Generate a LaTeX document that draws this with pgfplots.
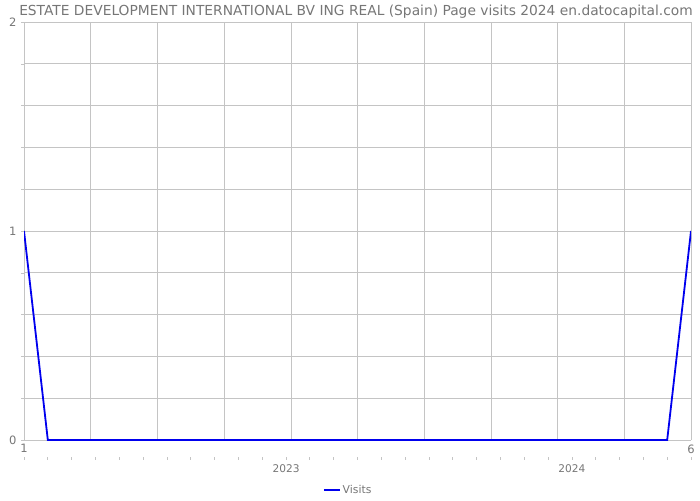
\documentclass[border=0pt]{standalone}
\usepackage{pgfplots}
\pgfplotsset{compat=1.18}
\usepackage{fontspec}
\setmainfont{DejaVu Sans}
\definecolor{gridc}{HTML}{C4C4C4}
\definecolor{txt}{HTML}{767676}
\definecolor{vis}{HTML}{0000EE}
\begin{document}
\begin{tikzpicture}
\useasboundingbox (0pt,0pt) rectangle (700pt,500pt);
\node[text=txt,font=\fontsize{13.8}{15}\selectfont] at (356pt,488.5pt) {ESTATE DEVELOPMENT INTERNATIONAL BV ING REAL (Spain) Page visits 2024 en.datocapital.com};
% secondary axis: month ticks and year labels
\begin{axis}[at={(24pt,42pt)}, anchor=south west, scale only axis, width=667pt, height=10pt,
  xmin=0, xmax=28, ymin=0, ymax=1,
  axis x line*=bottom, axis y line=none,
  axis line style={draw=none},
  xtick={0,...,28},
  xticklabels={,,,,,,,,,,,2023,,,,,,,,,,,,2024,,,,,},
  major tick length=3pt,
  tick style={gridc, line width=0.8pt},
  tick align=center,
  xticklabel style={text=txt, font=\fontsize{10.6}{12}\selectfont, yshift=-2pt},
  /pgf/number format/assume math mode=true]
\end{axis}
\begin{axis}[at={(24pt,60pt)}, anchor=south west, scale only axis, width=667pt, height=418pt,
  xmin=0, xmax=28, ymin=0, ymax=2,
  axis x line*=bottom, axis y line*=left,
  axis line style={gridc, line width=0.8pt},
  xtick={0,2.8,5.6,8.4,11.2,14,16.8,19.6,22.4,25.2,28},
  xticklabels={1,,,,,,,,,,6},
  ytick={0,1,2},
  yticklabels={0,1,2},
  minor ytick={0.2,0.4,0.6,0.8,1.2,1.4,1.6,1.8},
  grid=both,
  grid style={gridc, line width=0.6pt},
  minor grid style={gridc, line width=0.6pt},
  x tick style={draw=none},
  y tick style={gridc},
  major tick length=3pt, minor tick length=3pt,
  tick align=outside,
  xticklabel style={text=txt, font=\fontsize{11.5}{12}\selectfont, yshift=2pt},
  yticklabel style={text=txt, font=\fontsize{11.5}{12}\selectfont, xshift=-1pt},
  /pgf/number format/assume math mode=true,
  legend style={at={(axis description cs:0.486,-0.12)}, anchor=center, draw=none, fill=none,
    font=\fontsize{10.8}{12}\selectfont, text=txt, legend columns=-1},
  legend image code/.code={\draw[vis, line width=1.8pt] (0pt,0pt) -- (16pt,0pt);},
  legend cell align=left]
\addplot[vis, line width=1.8pt] coordinates {
(0,1) (1,0) (2,0) (3,0) (4,0) (5,0) (6,0) (7,0) (8,0) (9,0) (10,0) (11,0) (12,0) (13,0) (14,0)
(15,0) (16,0) (17,0) (18,0) (19,0) (20,0) (21,0) (22,0) (23,0) (24,0) (25,0) (26,0) (27,0) (28,1)};
\addlegendentry{Visits}
\end{axis}
\end{tikzpicture}
\end{document}
